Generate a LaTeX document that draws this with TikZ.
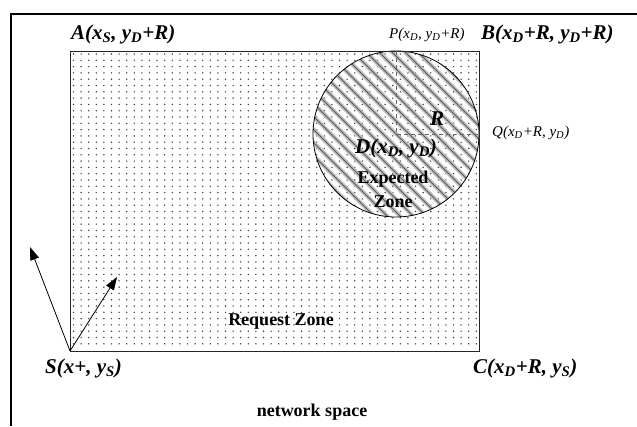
\documentclass[tikz,border=0pt]{standalone}
\usepackage{fontspec}
\setmainfont{Liberation Serif}
\usetikzlibrary{arrows.meta}
\begin{document}
\begin{tikzpicture}[x=1pt,y=-1pt,
 lab/.style={font=\fontsize{21}{24}\selectfont\bfseries\itshape, inner sep=0pt, anchor=west},
 smlab/.style={font=\fontsize{15}{17}\selectfont\itshape, inner sep=0pt, anchor=west},
 zone/.style={font=\fontsize{18}{24}\selectfont\bfseries, inner sep=0pt, align=center},
 arr/.style={-{Triangle[length=13pt,width=9pt]}, line width=0.8pt},
 guide/.style={dash pattern=on 4pt off 3pt, black!60, line width=0.6pt},
 dot/.style={fill=black!75},
 hatchwide/.style={black!25, line width=4pt},
 hatchcore/.style={black!65, line width=0.9pt}]
\useasboundingbox (0,0) rectangle (637,426);
% frame
\draw[line width=2pt] (11,426) -- (11,14) -- (637,14);
% corners
\coordinate (A) at (70,51);
\coordinate (B) at (479,51);
\coordinate (C) at (479,351);
\coordinate (S) at (70,351);
\coordinate (D) at (396,134);
\coordinate (P) at (396,51);
\coordinate (Q) at (479,134);
\coordinate (t1) at (30,247);
\coordinate (t2) at (117,277);
% dots
\foreach \i in {0,...,53} \foreach \j in {0,...,46}
  \fill[dot] (73.5+7.6*\i, 54+6.3*\j) circle (0.8pt);
% hatching in expected zone
\begin{scope}
\clip (D) circle (83pt);
\foreach \k in {-10,...,10}
  \draw[hatchwide] (296+13*\k-150, 34-150) -- ++(400,400);
\foreach \k in {-10,...,10}
  \draw[hatchcore] (296+13*\k-150, 34-150) -- ++(400,400);
\end{scope}
\draw[line width=0.8pt] (D) circle (83pt);
\draw[line width=1pt, black!85] (A) rectangle (C);
\draw[guide] (P) -- (D) -- (Q);
% arrows
\draw[arr] (S) -- (t1);
\draw[arr] (S) -- (t2);
% labels
\node[lab] (lA) at (71,34) {A(x\textsubscript{S}, y\textsubscript{D}+R)};
\node[smlab] (lP) at (389,35) {P(x\textsubscript{D}, y\textsubscript{D}+R)};
\node[lab] (lB) at (481,34) {B(x\textsubscript{D}+R, y\textsubscript{D}+R)};
\node[lab, anchor=center] (lR) at (437,119) {R};
\node[smlab] (lQ) at (492,133) {Q(x\textsubscript{D}+R, y\textsubscript{D})};
\node[lab] (lD) at (355,148) {D(x\textsubscript{D}, y\textsubscript{D})};
\node[zone] (lE) at (393,189) {Expected\\Zone};
\node[zone] (lRZ) at (281,322) {Request Zone};
\node[lab] (lS) at (45,368) {S(x+, y\textsubscript{S})};
\node[lab] (lC) at (473,368) {C(x\textsubscript{D}+R, y\textsubscript{S})};
\node[zone] (lN) at (312,412) {network space};
\end{tikzpicture}
\end{document}
